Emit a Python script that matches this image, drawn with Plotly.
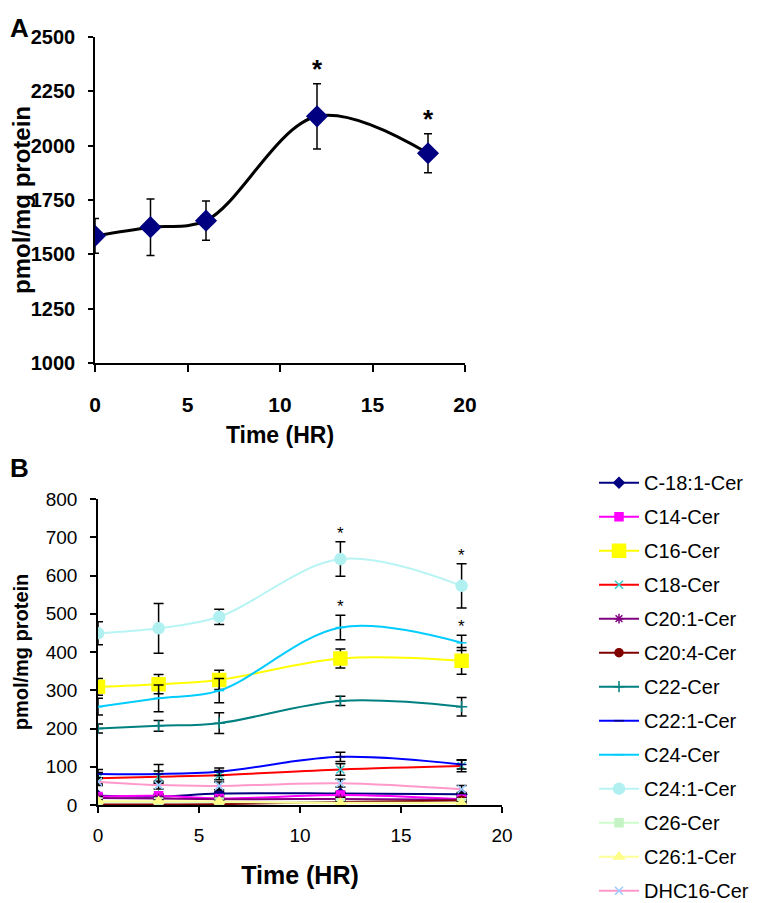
import plotly.graph_objects as go

# panel A: total ceramide
A_TIME = [0, 3, 6, 12, 18]
A_TOTAL = [1585, 1625, 1655, 2135, 1965]
A_ERR = [80, 130, 90, 150, 90]
A_SIG = [False, False, False, True, True]

# panel B: individual species
B_TIME = [0, 3, 6, 12, 18]
SPECIES = ["C-18:1-Cer", "C14-Cer", "C16-Cer", "C18-Cer", "C20:1-Cer", "C20:4-Cer",
           "C22-Cer", "C22:1-Cer", "C24-Cer", "C24:1-Cer", "C26-Cer", "C26:1-Cer", "DHC16-Cer"]
B_VALUES = {
    "C-18:1-Cer": [24, 22, 30, 30, 28],
    "C14-Cer": [22, 24, 17, 26, 15],
    "C16-Cer": [309, 316, 327, 383, 377],
    "C18-Cer": [70, 74, 78, 93, 102],
    "C20:1-Cer": [18, 17, 15, 16, 14],
    "C20:4-Cer": [1, 1, 2, 8, 12],
    "C22-Cer": [200, 207, 214, 272, 257],
    "C22:1-Cer": [81, 81, 87, 126, 106],
    "C24-Cer": [257, 279, 299, 464, 424],
    "C24:1-Cer": [449, 462, 492, 643, 573],
    "C26-Cer": [8, 8, 8, 6, 6],
    "C26:1-Cer": [10, 10, 9, 5, 5],
    "DHC16-Cer": [61, 52, 50, 57, 41],
}
B_ERRORS = {
    "C-18:1-Cer": [5, 5, 5, 5, 5],
    "C14-Cer": [5, 5, 5, 5, 5],
    "C16-Cer": [22, 25, 25, 25, 35],
    "C18-Cer": [15, 15, 12, 15, 15],
    "C20:1-Cer": [4, 4, 4, 4, 4],
    "C20:4-Cer": [2, 2, 2, 2, 2],
    "C22-Cer": [12, 14, 27, 12, 24],
    "C22:1-Cer": [12, 25, 10, 12, 12],
    "C24-Cer": [22, 35, 32, 32, 20],
    "C24:1-Cer": [30, 65, 20, 45, 58],
    "C26-Cer": [3, 3, 3, 3, 3],
    "C26:1-Cer": [3, 3, 3, 3, 3],
    "DHC16-Cer": [10, 10, 10, 10, 10],
}
B_SIG = {"C24-Cer": [False, False, False, True, True], "C24:1-Cer": [False, False, False, True, True]}

STYLE = {
    "C-18:1-Cer": ("#000080", "diamond", "#000080", 8),
    "C14-Cer": ("#FF00FF", "square", "#FF00FF", 8),
    "C16-Cer": ("#FFFF00", "square", "#FFFF00", 13),
    "C18-Cer": ("#FF0000", "x-thin-open", "#33CCCC", 8),
    "C20:1-Cer": ("#800080", "asterisk-open", "#800080", 8),
    "C20:4-Cer": ("#800000", "circle", "#800000", 8),
    "C22-Cer": ("#008080", "cross-thin-open", "#008080", 8),
    "C22:1-Cer": ("#0000FF", "line-ew-open", "#000080", 7),
    "C24-Cer": ("#00CCFF", "line-ew-open", "#00CCFF", 7),
    "C24:1-Cer": ("#B8F4F4", "circle", "#B0F0F0", 11),
    "C26-Cer": ("#CCFFCC", "square", "#C4F4C4", 8),
    "C26:1-Cer": ("#FFFF99", "triangle-up", "#FFFF88", 9),
    "DHC16-Cer": ("#FF99CC", "x-thin-open", "#99CCFF", 8),
}

ARIAL = "Liberation Sans, Arial, sans-serif"

# the page body has an 8px margin, so the figure is sized to fit inside the window
W, H, OFF = 766, 895, 8


def px(x):
    return (x - OFF) / W


def py(y):
    return 1 - (y - OFF) / H


fig = go.Figure()

fig.add_trace(go.Scatter(
    x=A_TIME, y=A_TOTAL, mode="lines+markers", showlegend=False,
    line={"color": "black", "width": 3, "shape": "spline", "smoothing": 1},
    marker={"symbol": "diamond", "size": 17, "color": "#000080"},
    error_y={"type": "data", "array": A_ERR, "color": "black", "thickness": 1.5, "width": 4},
    xaxis="x", yaxis="y",
))

for name in SPECIES:
    line_color, symbol, marker_color, size = STYLE[name]
    fig.add_trace(go.Scatter(
        x=B_TIME, y=B_VALUES[name], mode="lines+markers", name=name, legendgroup=name,
        line={"color": line_color, "width": 2, "shape": "spline", "smoothing": 1},
        marker={"symbol": symbol, "size": size, "color": marker_color,
                "line": {"color": marker_color, "width": 1.5}},
        error_y={"type": "data", "array": B_ERRORS[name], "color": "black", "thickness": 1.5, "width": 5},
        xaxis="x2", yaxis="y2",
    ))

annotations = []
for t, v, e, s in zip(A_TIME, A_TOTAL, A_ERR, A_SIG):
    if s:
        annotations.append(dict(x=t, y=v + e, xref="x", yref="y", text="*", showarrow=False,
                                yanchor="bottom", yshift=-2,
                                font={"family": ARIAL, "size": 26, "color": "black", "weight": "bold"}))
for name, flags in B_SIG.items():
    for t, v, e, s in zip(B_TIME, B_VALUES[name], B_ERRORS[name], flags):
        if s:
            annotations.append(dict(x=t, y=v + e, xref="x2", yref="y2", text="*", showarrow=False,
                                    yanchor="bottom", yshift=-3,
                                    font={"family": ARIAL, "size": 17, "color": "black"}))
annotations.append(dict(x=0, y=py(28), xref="paper", yref="paper", text="A", showarrow=False,
                        xanchor="left", yanchor="middle",
                        font={"family": ARIAL, "size": 26, "color": "black", "weight": "bold"}))
annotations.append(dict(x=0, y=py(468), xref="paper", yref="paper", text="B", showarrow=False,
                        xanchor="left", yanchor="middle",
                        font={"family": ARIAL, "size": 26, "color": "black", "weight": "bold"}))

axis_common = dict(showline=True, linecolor="black", linewidth=1.5, showgrid=False, zeroline=False,
                   ticks="outside", tickcolor="black", tickwidth=1.5, automargin=False)

fig.update_layout(
    width=W, height=H,
    margin={"l": 0, "r": 0, "t": 0, "b": 0, "autoexpand": False},
    paper_bgcolor="white", plot_bgcolor="white",
    showlegend=True,
    xaxis=dict(axis_common, domain=[px(95), px(465)], range=[0, 20], dtick=5, anchor="y", ticklen=7,
               ticklabelstandoff=15,
               tickfont={"family": ARIAL, "size": 21, "color": "black", "weight": "bold"},
               title={"text": "Time (HR)", "standoff": 12,
                      "font": {"family": ARIAL, "size": 23, "color": "black", "weight": "bold"}}),
    yaxis=dict(axis_common, domain=[py(363), py(37)], range=[1000, 2500], dtick=250, anchor="x", ticklen=5,
               ticklabelstandoff=9,
               tickfont={"family": ARIAL, "size": 20, "color": "black", "weight": "bold"},
               title={"text": "pmol/mg protein", "standoff": 6,
                      "font": {"family": ARIAL, "size": 24, "color": "black", "weight": "bold"}}),
    xaxis2=dict(axis_common, domain=[px(98), px(502)], range=[0, 20], dtick=5, anchor="y2", ticklen=6,
                ticklabelstandoff=6,
                tickfont={"family": ARIAL, "size": 19, "color": "black"},
                title={"text": "Time (HR)", "standoff": 22,
                       "font": {"family": ARIAL, "size": 25, "color": "black", "weight": "bold"}}),
    yaxis2=dict(axis_common, domain=[py(805), py(499)], range=[0, 800], dtick=100, anchor="x2", ticklen=6,
                ticklabelstandoff=9,
                tickfont={"family": ARIAL, "size": 19, "color": "black"},
                title={"text": "pmol/mg protein", "standoff": 12,
                       "font": {"family": ARIAL, "size": 20, "color": "black", "weight": "bold"}}),
    legend=dict(x=px(594), y=-0.008, xanchor="left", yanchor="bottom", tracegroupgap=5, itemwidth=40,
                font={"family": ARIAL, "size": 20, "color": "black"}, bgcolor="rgba(0,0,0,0)"),
    annotations=annotations,
)

fig.write_html("out.html")
